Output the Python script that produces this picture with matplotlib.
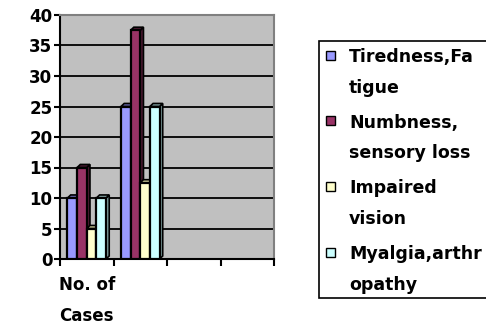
import matplotlib
matplotlib.use("Agg")
import matplotlib.pyplot as plt
from matplotlib.patches import Rectangle, Polygon

# ---- data ----
categories = ["No. of\nCases", "", "", ""]
series_names = ["Tiredness,Fa\ntigue", "Numbness,\nsensory loss",
                "Impaired\nvision", "Myalgia,arthr\nopathy"]
tiredness = [10, 25]
numbness = [15, 37.5]
impaired = [5, 12.5]
myalgia = [10, 25]
yticks = [0, 5, 10, 15, 20, 25, 30, 35, 40]

series = [tiredness, numbness, impaired, myalgia]
colors = ["#9999FF", "#993366", "#FFFFCC", "#CCFFFF"]
side_colors = ["#6666AA", "#4D1A33", "#CCCC99", "#7F9F9F"]

W, H = 486, 326
plt.rcParams['font.family'] = ['DejaVu Sans']
plt.rcParams['font.weight'] = 'bold'
FS = 12
fig = plt.figure(figsize=(W / 100, H / 100), dpi=100)
ax = fig.add_axes([60 / W, 1 - 259 / H, 214 / W, 244 / H])
ax.set_facecolor("#C0C0C0")
ax.set_xlim(0, len(categories))
ax.set_ylim(yticks[0], yticks[-1])

# gridlines
ax.set_axisbelow(True)
ax.yaxis.grid(True, color="black", lw=1.3)

# bars with pseudo-3D sides
bw = 0.18
dx, dy = 0.06, 0.5
for k, (vals, c, sc) in enumerate(zip(series, colors, side_colors)):
    for g, v in enumerate(vals):
        x = g + 0.5 + (k - 1.5) * bw - bw / 2
        z = 3 + k * 0.01
        side = Polygon([(x + bw, 0), (x + bw + dx, dy), (x + bw + dx, v + dy), (x + bw, v)],
                       closed=True, facecolor=sc, edgecolor="black", lw=1.2, zorder=z)
        top = Polygon([(x, v), (x + dx, v + dy), (x + bw + dx, v + dy), (x + bw, v)],
                      closed=True, facecolor=sc, edgecolor="black", lw=1.2, zorder=z)
        ax.add_patch(side)
        ax.add_patch(top)
        ax.bar(x, v, width=bw, align="edge", color=c, edgecolor="black", lw=1.6, zorder=z + 0.005)

# spines
for s in ["top", "right"]:
    ax.spines[s].set_color("#808080")
    ax.spines[s].set_linewidth(1.5)
for s in ["left", "bottom"]:
    ax.spines[s].set_color("black")
    ax.spines[s].set_linewidth(1.5)

ax.set_yticks(yticks)
ax.set_yticklabels([str(t) for t in yticks], fontsize=FS, fontweight="bold")
ax.tick_params(axis="y", length=4, width=1.5, pad=1.5)

ax.set_xticks(range(len(categories) + 1))
ax.set_xticklabels([])
ax.set_xticks([i + 0.5 for i in range(len(categories))], minor=True)
ax.set_xticklabels(categories, minor=True, fontsize=FS, fontweight="bold",
                   linespacing=1.95, multialignment="center")
ax.tick_params(axis="x", which="major", length=5, width=1.5)
ax.tick_params(axis="x", which="minor", length=0, pad=12)

# legend (drawn manually, box extends past the right edge)
lx0 = 319 / W
ly0 = 1 - 298 / H
ly1 = 1 - 41 / H
fig.patches.append(Rectangle((lx0, ly0), 1.1 - lx0, ly1 - ly0, transform=fig.transFigure,
                             facecolor="white", edgecolor="black", lw=1.2))
for k, (name, c) in enumerate(zip(series_names, colors)):
    yc = 55 + k * 65.7
    fig.patches.append(Rectangle((326 / W, 1 - (yc + 4.5) / H), 9 / W, 9 / H,
                                 transform=fig.transFigure, facecolor=c,
                                 edgecolor="black", lw=1.0))
    fig.text(349 / W, 1 - (yc - 7) / H, name, fontsize=12.5, fontweight="bold",
             va="top", ha="left", linespacing=1.9)

fig.savefig("out.png", dpi=100)
